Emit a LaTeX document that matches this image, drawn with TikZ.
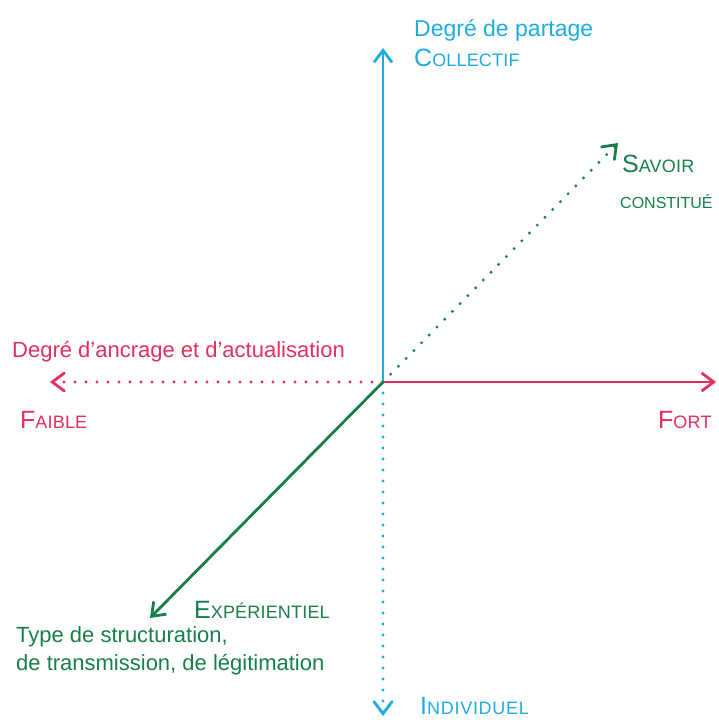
\documentclass[tikz,border=0pt]{standalone}
\usepackage{fontspec}
\setmainfont{Liberation Sans}
\usetikzlibrary{arrows.meta}
\definecolor{cblue}{RGB}{30,172,222}
\definecolor{cred}{RGB}{226,48,92}
\definecolor{cgreen}{RGB}{22,128,72}
\newcommand{\fsc}[3][1]{{\fontsize{25}{28}\selectfont #2}{\fontsize{18}{21}\selectfont\addfontfeatures{LetterSpace=#1}#3}}
\tikzset{
  axis/.style={line width=2.8pt,-{Straight Barb[length=12pt,width=18pt,line width=2.8pt]}},
  dotaxis/.style={line width=3.2pt,line cap=round,dash pattern=on 0pt off 11pt,
     -{Straight Barb[length=12pt,width=18pt,line width=2.8pt,line cap=round]}},
  lbl/.style={inner sep=0pt,anchor=west,font=\fontsize{22}{26}\selectfont},
  sclbl/.style={inner sep=0pt,anchor=base west},
}
\begin{document}
\begin{tikzpicture}[x=1pt,y=-1pt]
\useasboundingbox (0,0) rectangle (718,720);
\coordinate (O) at (383,382);
\coordinate (top) at (383,48);
\coordinate (bot) at (383,716);
\coordinate (right) at (716,382);
\coordinate (left) at (50,382);
\coordinate (ur) at (618,143);
\coordinate (ll) at (150,618);
% blue
\draw[axis,cblue] (O) -- (top);
\draw[dotaxis,cblue] (O) -- (bot);
% red
\draw[axis,cred] (O) -- (right);
\draw[dotaxis,cred] (O) -- (left);
% green
\draw[axis,cgreen] (O) -- (ll);
\draw[dotaxis,cgreen] (O) -- (ur);
% labels
\node[lbl,text=cblue,font=\fontsize{23}{26}\selectfont] (t1) at (414,30) {Degré de partage};
\node[sclbl,text=cblue] (t2) at (414,66) {\fsc{C}{OLLECTIF}};
\node[lbl,text=cred] (t3) at (12,352) {Degré d'ancrage et d'actualisation};
\node[sclbl,text=cred] (t4) at (20,428) {\fsc{F}{AIBLE}};
\node[sclbl,text=cred] (t5) at (658,428) {\fsc{F}{ORT}};
\node[sclbl,text=cgreen] (t6) at (622,172) {\fsc{S}{AVOIR}};
\node[sclbl,text=cgreen,font=\fontsize{16}{19}\selectfont] (t7) at (620,208) {CONSTITUÉ};
\node[sclbl,text=cgreen] (t8) at (194,618) {\fsc{E}{XPÉRIENTIEL}};
\node[lbl,text=cgreen,align=left,anchor=north west,font=\fontsize{22}{28}\selectfont] (t9) at (16,626) {Type de structuration,\\de transmission, de légitimation};
\node[sclbl,text=cblue] (t10) at (420,714) {\fsc[4]{I}{NDIVIDUEL}};
\end{tikzpicture}
\end{document}
